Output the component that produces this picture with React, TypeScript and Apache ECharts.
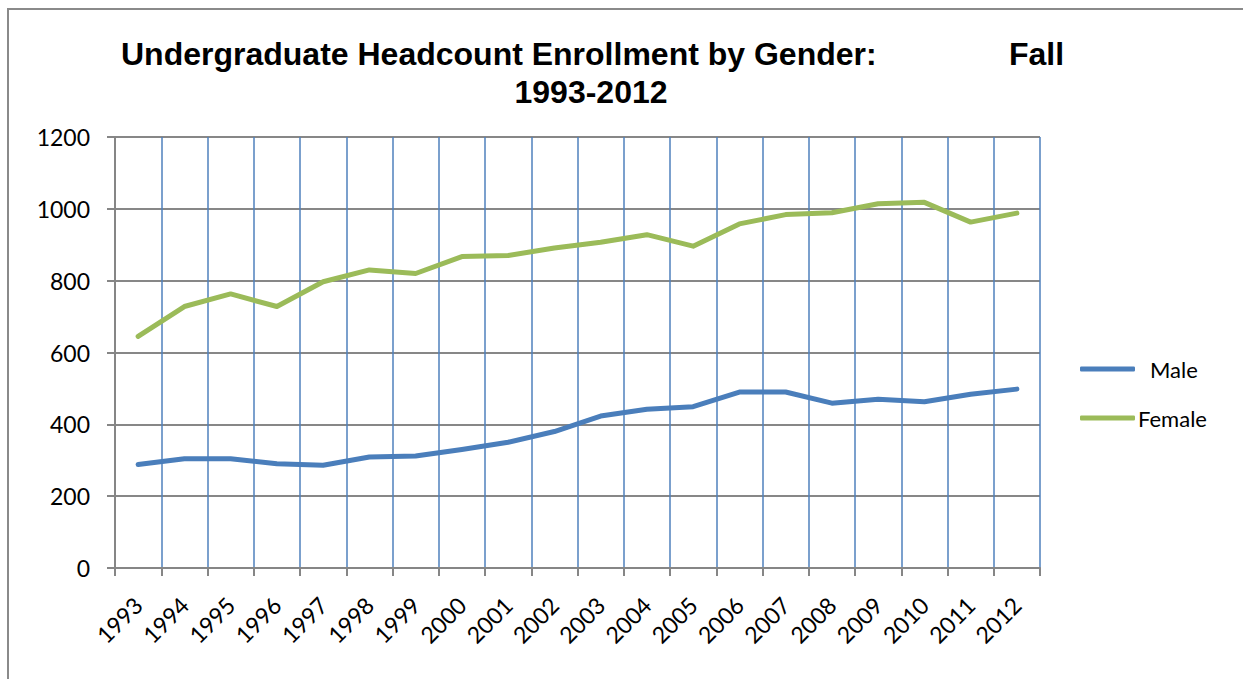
import React, { useEffect, useRef } from "react";
import * as echarts from "echarts";

const years = ["1993","1994","1995","1996","1997","1998","1999","2000","2001","2002","2003","2004","2005","2006","2007","2008","2009","2010","2011","2012"];
const male = [288, 304, 304, 290, 286, 309, 312, 330, 350, 380, 423, 442, 449, 490, 490, 459, 470, 463, 484, 498];
const female = [645, 728, 763, 728, 797, 830, 820, 867, 870, 891, 907, 928, 896, 958, 984, 989, 1014, 1018, 963, 988];
const titleLine1 = "Undergraduate Headcount Enrollment by Gender:";
const titleWord2 = "Fall";
const titleLine2 = "1993-2012";

export default function App() {
  const ref = useRef<HTMLDivElement>(null);
  useEffect(() => {
    document.body.style.margin = "0";
    const chart = echarts.init(ref.current!, null, { renderer: "svg" });
    const labelFont = "Lato, 'Open Sans', sans-serif";
    const titleFont = "'Liberation Sans', Arial, sans-serif";
    chart.setOption({
      animation: false,
      backgroundColor: "#ffffff",
      graphic: [
        {
          type: "rect",
          z: -10,
          shape: { x: 8, y: 9, width: 1300, height: 720 },
          style: { fill: "none", stroke: "#8a8a8a", lineWidth: 2 },
        },
        {
          type: "text",
          x: 121,
          y: 53.5,
          style: { text: titleLine1, font: `bold 32px ${titleFont}`, fill: "#000", align: "left", verticalAlign: "middle" },
        },
        {
          type: "text",
          x: 1009,
          y: 53.5,
          style: { text: titleWord2, font: `bold 32px ${titleFont}`, fill: "#000", align: "left", verticalAlign: "middle" },
        },
        {
          type: "text",
          x: 591,
          y: 92,
          style: { text: titleLine2, font: `bold 32px ${titleFont}`, fill: "#000", align: "center", verticalAlign: "middle" },
        },
      ],
      grid: { left: 115, right: 203, top: 137, bottom: 111, containLabel: false },
      legend: {
        orient: "vertical",
        left: 1075,
        top: 353,
        itemWidth: 55,
        itemHeight: 5,
        itemGap: 27,
        icon: "roundRect",
        textStyle: { fontFamily: labelFont, fontSize: 22, color: "#000", padding: [0, 0, 0, -2] },
        data: [
          { name: "Male", textStyle: { padding: [0, 0, 0, 10] } },
          { name: "Female" },
        ],
      },
      xAxis: {
        type: "category",
        data: years,
        boundaryGap: true,
        axisLine: { lineStyle: { color: "#868686", width: 2 } },
        axisTick: { show: true, length: 8, lineStyle: { color: "#868686", width: 2 } },
        axisLabel: { interval: 0, rotate: 45, margin: 33, fontFamily: labelFont, fontSize: 23, color: "#000" },
        splitLine: { show: true, interval: 0, lineStyle: { color: "#4F81BD", width: 1.5 } },
      },
      yAxis: {
        type: "value",
        min: 0,
        max: 1200,
        interval: 200,
        axisLine: { show: true, lineStyle: { color: "#868686", width: 2 } },
        axisTick: { show: true, length: 8, lineStyle: { color: "#868686", width: 2 } },
        axisLabel: { margin: 25, fontFamily: labelFont, fontSize: 23, color: "#000", formatter: (v: number) => String(v) },
        splitLine: { show: true, lineStyle: { color: "#878787", width: 2 } },
      },
      series: [
        {
          name: "Male",
          type: "line",
          data: male,
          symbol: "none",
          lineStyle: { color: "#4A7EBB", width: 5, cap: "round", join: "round" },
          itemStyle: { color: "#4A7EBB" },
        },
        {
          name: "Female",
          type: "line",
          data: female,
          symbol: "none",
          lineStyle: { color: "#9BBB59", width: 5, cap: "round", join: "round" },
          itemStyle: { color: "#9BBB59" },
        },
      ],
    });
    return () => chart.dispose();
  }, []);
  return <div ref={ref} style={{ width: 1243, height: 679 }} />;
}
